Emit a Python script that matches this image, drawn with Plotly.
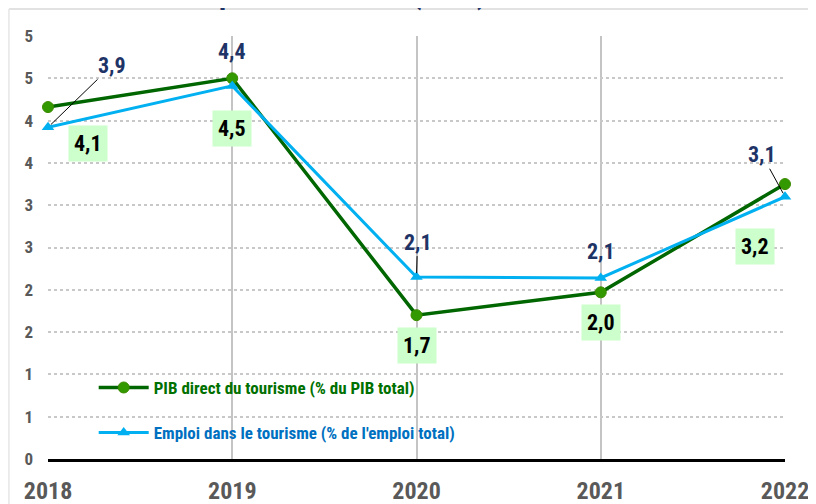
import plotly.graph_objects as go

years = [2018, 2019, 2020, 2021, 2022]
year_labels = ["2018", "2019", "2020", "2021", "2022"]
pib = [4.16, 4.50, 1.70, 1.97, 3.25]
emploi = [3.92, 4.41, 2.15, 2.14, 3.10]
pib_labels = ["4,1", "4,5", "1,7", "2,0", "3,2"]
emploi_labels = ["3,9", "4,4", "2,1", "2,1", "3,1"]
y_tickvals = [0, 0.5, 1, 1.5, 2, 2.5, 3, 3.5, 4, 4.5, 5]
y_ticktext = ["0", "1", "1", "2", "2", "3", "3", "4", "4", "5", "5"]
name_pib = "PIB direct du tourisme (% du PIB total)"
name_emploi = "Emploi dans le tourisme (% de l'emploi total)"
title_text = "Poids économique du tourisme (en %)"

FONT = "Liberation Sans Narrow, Arial Narrow, Roboto Condensed, Liberation Sans, Arial, sans-serif"
GREEN_LINE = "#006600"
GREEN_MARK = "#339900"
BLUE = "#00b0f0"
NAVY = "#1f3466"

fig = go.Figure()
fig.add_trace(go.Scatter(
    x=years, y=pib, name=name_pib, mode="lines+markers",
    line=dict(color=GREEN_LINE, width=3.5),
    marker=dict(symbol="circle", size=11, color=GREEN_MARK, line=dict(color="#3a8a00", width=1)),
    cliponaxis=False, legend="legend",
))
fig.add_trace(go.Scatter(
    x=years, y=emploi, name=name_emploi, mode="lines+markers",
    line=dict(color=BLUE, width=3),
    marker=dict(symbol="triangle-up", size=11, color=BLUE),
    cliponaxis=False, legend="legend2",
))

# label offsets (pixels)
pib_shift = [(40, -36), (0, -50), (0, -30), (0, -30), (-30, -62)]
emp_off = [(64, -62, True), (0, 34, False), (1, -35, True), (0, 26, False), (-23, -42, True)]

annotations = []
for x, y, t, (dx, dy) in zip(years, pib, pib_labels, pib_shift):
    annotations.append(dict(
        x=x, y=y, xref="x", yref="y", text=t, showarrow=False,
        xshift=dx, yshift=dy, bgcolor="#ccffcc", borderpad=5,
        font=dict(family=FONT, size=22, color="black", weight="bold"),
    ))
for x, y, t, (dx, dy, arrow) in zip(years, emploi, emploi_labels, emp_off):
    if arrow:
        annotations.append(dict(
            x=x, y=y, xref="x", yref="y", text=t, showarrow=True,
            ax=dx, ay=dy, arrowhead=0, arrowwidth=1, arrowcolor="black", standoff=4,
            font=dict(family=FONT, size=22, color=NAVY, weight="bold"),
        ))
    else:
        annotations.append(dict(
            x=x, y=y, xref="x", yref="y", text=t, showarrow=False,
            yshift=dy, xshift=dx,
            font=dict(family=FONT, size=22, color=NAVY, weight="bold"),
        ))
annotations.append(dict(
    x=-0.02, y=1.0567, xref="paper", yref="paper", xanchor="left", yanchor="bottom",
    text=title_text, showarrow=False, borderpad=0,
    font=dict(family=FONT, size=30, color=NAVY, weight="bold"),
))

fig.update_layout(
    width=808, height=496,
    margin=dict(l=40, r=31, t=28, b=45, autoexpand=False),
    paper_bgcolor="white", plot_bgcolor="white",
    font=dict(family=FONT),
    annotations=annotations,
    shapes=[
        dict(type="line", xref="paper", yref="paper", x0=-0.053, x1=1.05, y0=1.0638, y1=1.0638,
             line=dict(color="#d9d9d9", width=1.5), layer="below"),
        dict(type="line", xref="paper", yref="paper", x0=-0.053, x1=-0.053, y0=1.0638, y1=-0.12,
             line=dict(color="#e6e6e6", width=1.5), layer="below"),
    ],
    legend=dict(x=0.062, y=0.168, xanchor="left", yanchor="middle", bgcolor="rgba(0,0,0,0)",
                itemwidth=50, font=dict(family=FONT, size=17, color="#007000", weight="bold")),
    legend2=dict(x=0.062, y=0.0615, xanchor="left", yanchor="middle", bgcolor="rgba(0,0,0,0)",
                 itemwidth=50, font=dict(family=FONT, size=17, color="#0070c0", weight="bold")),
    showlegend=True,
)
fig.update_xaxes(
    range=[2018, 2022], tickvals=years, ticktext=year_labels, automargin=False,
    showgrid=True, gridcolor="#c4c4c4", gridwidth=2,
    showline=True, linecolor="black", linewidth=2.5, zeroline=False,
    tickfont=dict(family=FONT, size=24, color="#595959", weight="bold"),
    ticks="", ticklabelstandoff=8,
)
fig.update_yaxes(
    range=[0, 5], tickvals=y_tickvals, ticktext=y_ticktext, automargin=False,
    showgrid=True, gridcolor="#c8c8c8", gridwidth=1.5, griddash="dot",
    zeroline=False, showline=False,
    tickfont=dict(family=FONT, size=17, color="#595959", weight="bold"),
    ticks="", ticklabelstandoff=14,
)
fig.write_html("out.html")
